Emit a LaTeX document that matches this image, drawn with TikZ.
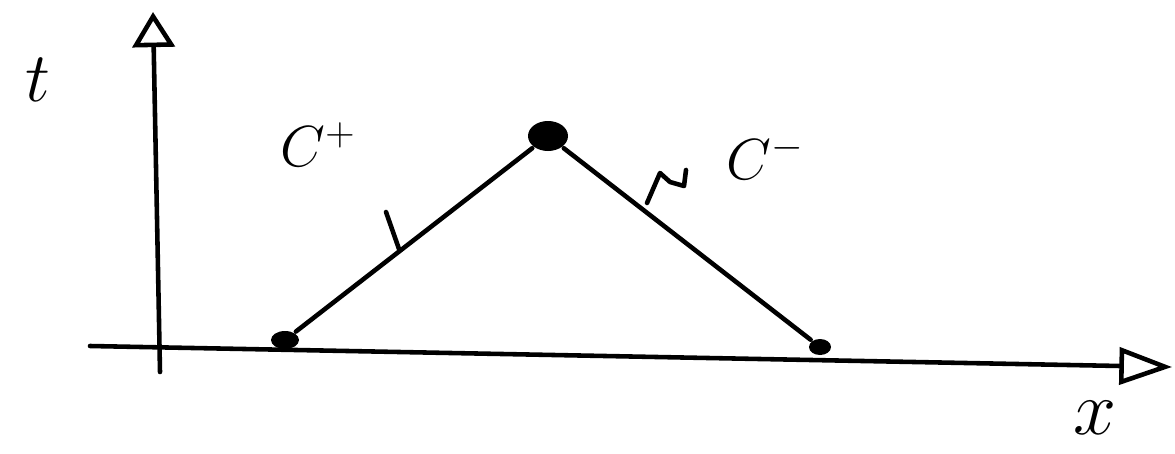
\RequirePackage{fix-cm}
\documentclass[tikz,border=0pt]{standalone}
\usetikzlibrary{arrows.meta,positioning,shapes.geometric}
\begin{document}
\begin{tikzpicture}[x=0.02cm,y=-0.02cm,line width=2.6pt,line cap=round,line join=round,
  dot/.style={ellipse,fill,inner sep=0pt},
  lbl/.style={inner sep=0pt}]
\useasboundingbox (0,0) rectangle (1175,453);
% Axes
\coordinate (t0) at (160,372);
\coordinate (t1) at (153,12);
\coordinate (x0) at (90,346);
\coordinate (x1) at (1172,367);
\draw[-{Triangle[open,length=20pt,width=24pt,line width=2.6pt]}] (t0) -- (t1);
\draw[-{Triangle[open,length=30pt,width=21pt,line width=2.6pt]}] (x0) -- (x1);
\node[lbl,font=\fontsize{40}{46}\selectfont] (tlab) at (38,80) {$t$};
\node[lbl,font=\fontsize{44}{50}\selectfont] (xlab) at (1095,418) {$x$};

% Points on the curve
\node[dot,minimum width=28*0.02cm,minimum height=18*0.02cm] (left) at (285,340) {};
\node[dot,minimum width=40*0.02cm,minimum height=30*0.02cm] (peak) at (548,136) {};
\node[dot,minimum width=22*0.02cm,minimum height=16*0.02cm] (right) at (820,347) {};
\draw (left) -- (peak);
\draw (peak) -- (right);

% Marks on the two sides
\draw (386,212) -- (399,249);
\draw (647,203) -- (660,173) -- (670,182) -- (684,186) -- (686,170);

% Labels
\node[lbl,font=\fontsize{33}{38}\selectfont] (cplus) at (318,145) {$C^{+}$};
\node[lbl,font=\fontsize{33}{38}\selectfont] (cminus) at (765,157) {$C^{-}$};
\end{tikzpicture}
\end{document}
